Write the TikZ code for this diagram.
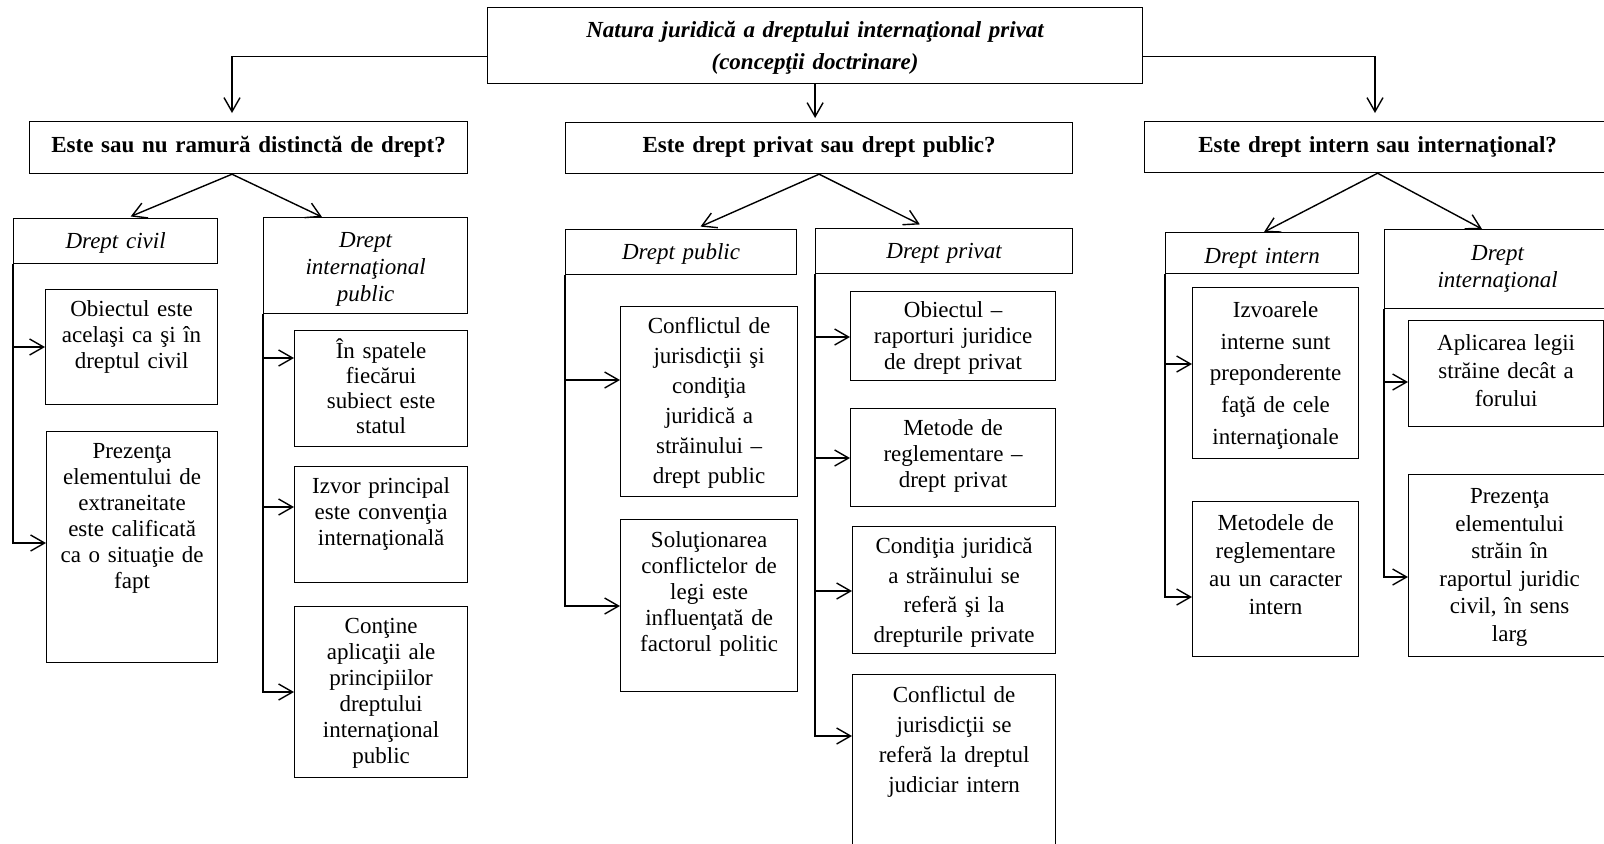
\documentclass[tikz,border=0pt]{standalone}
\usepackage{fontspec}
\setmainfont{Liberation Serif}
\usepackage{tikz}
\usetikzlibrary{arrows.meta,calc}

\newcommand{\cellfont}[1]{\fontsize{11.5pt}{#1}\selectfont}

\begin{document}
\begin{tikzpicture}[
    x=0.5pt, y=-0.5pt,
    cell/.style n args={3}{
        rectangle, draw=black, line width=0.6pt,
        anchor=north west, inner sep=0pt,
        align=center,
        text width=#1, text height=#2, text depth=#3,
        font=\cellfont{13pt}
    },
    arrow/.style={-{Straight Barb[length=7pt,width=8pt]}, line width=0.7pt}, % open arrow tip
]
\useasboundingbox (0,0) rectangle (1604,843);
\clip (0,0) rectangle (1604,843);

% --- TITLE ---
\node[cell={327.5pt}{15pt}{23pt}, font=\bfseries\itshape\cellfont{16pt}] (top) at (487,7)
    {Natura juridică a dreptului internaţional privat\\(concepţii doctrinare)};

% --- THE THREE QUESTIONS ---
\node[cell={219pt}{15.5pt}{10.5pt}, font=\bfseries\cellfont{13pt}] (q1) at (29,121)
    {Este sau nu ramură distinctă de drept?};
\node[cell={253.5pt}{15pt}{10.5pt}, font=\bfseries\cellfont{13pt}] (q2) at (565,122)
    {Este drept privat sau drept public?};
\node[cell={233pt}{15.5pt}{10pt}, font=\bfseries\cellfont{13pt}] (q3) at (1144,121)
    {Este drept intern sau internaţional?\hspace*{11pt}};

% --- COLUMN 1: ramura distincta ---
\node[cell={102pt}{15pt}{7.5pt}, font=\itshape\cellfont{13.5pt}] (civ) at (13,218) {Drept civil};
\node[cell={102pt}{15pt}{33pt}, font=\itshape\cellfont{13.5pt}] (dip) at (263,217)
    {Drept\\internaţional\\public};

\node[cell={86pt}{13.5pt}{44pt}] (objciv) at (45,289)
    {Obiectul este\\acelaşi ca şi în\\dreptul civil};
\node[cell={85.5pt}{13.5pt}{102pt}] (prezciv) at (46,431)
    {Prezenţa\\elementului de\\extraneitate\\este calificată\\ca o situaţie de\\fapt};

\node[cell={86.5pt}{14pt}{44pt}, font=\cellfont{12.5pt}] (stat) at (294,330)
    {În spatele\\fiecărui\\subiect este\\statul};
\node[cell={86.5pt}{13.5pt}{44.5pt}] (izvor) at (294,466)
    {Izvor principal\\este convenţia\\internaţională};
\node[cell={86.5pt}{13.5pt}{72pt}] (contine) at (294,606)
    {Conţine\\aplicaţii ale\\principiilor\\dreptului\\internaţional\\public};

% --- COLUMN 2: privat sau public ---
\node[cell={115.5pt}{15pt}{7.5pt}, font=\itshape\cellfont{13.5pt}] (dpub) at (565,229) {Drept public};
\node[cell={128.5pt}{15pt}{7.5pt}, font=\itshape\cellfont{13.5pt}] (dpriv) at (815,228) {Drept privat};

\node[cell={88.5pt}{13.5pt}{81.5pt}, font=\cellfont{15pt}] (confpub) at (620,306)
    {Conflictul de\\jurisdicţii şi\\condiţia\\juridică a\\străinului –\\drept public};
\node[cell={88.5pt}{14pt}{72pt}] (solut) at (620,519)
    {Soluţionarea\\conflictelor de\\legi este\\influenţată de\\factorul politic};

\node[cell={102.5pt}{13pt}{31.5pt}] (objpriv) at (850,291)
    {Obiectul –\\raporturi juridice\\de drept privat};
\node[cell={102.5pt}{13.5pt}{35.5pt}] (metpriv) at (850,408)
    {Metode de\\reglementare –\\drept privat};
\node[cell={101.5pt}{13.5pt}{50pt}, font=\cellfont{14.75pt}] (condpriv) at (852,526)
    {Condiţia juridică\\a străinului se\\referă şi la\\drepturile private};
\node[cell={101.5pt}{14pt}{95pt}, font=\cellfont{15pt}] (confpriv) at (852,674)
    {Conflictul de\\jurisdicţii se\\referă la dreptul\\judiciar intern};

% --- COLUMN 3: intern sau international ---
\node[cell={96.5pt}{15.5pt}{5pt}, font=\itshape\cellfont{13.5pt}] (dint) at (1165,232) {Drept intern};
\node[cell={113pt}{15.5pt}{24pt}, font=\itshape\cellfont{13.5pt}] (dintl) at (1384,229)
    {Drept\hspace*{11pt}\\internaţional\hspace*{11pt}};

\node[cell={83pt}{15pt}{70.5pt}, font=\cellfont{15.8pt}] (izvint) at (1192,287)
    {Izvoarele\\interne sunt\\preponderente\\faţă de cele\\internaţionale};
\node[cell={83pt}{14.5pt}{63pt}, font=\cellfont{14pt}] (metint) at (1192,501)
    {Metodele de\\reglementare\\au un caracter\\intern};
\node[cell={97.5pt}{15pt}{38pt}, font=\cellfont{14pt}] (aplic) at (1408,320)
    {Aplicarea legii\\străine decât a\\forului};
\node[cell={101pt}{14.5pt}{76.5pt}, font=\cellfont{13.75pt}] (prezint) at (1408,474)
    {Prezenţa\hspace*{11pt}\\elementului\hspace*{11pt}\\străin în\hspace*{11pt}\\raportul juridic\hspace*{11pt}\\civil, în sens\hspace*{11pt}\\larg\hspace*{11pt}};

% --- SAGETI: titlu -> intrebari ---
\draw[arrow, shorten >=4pt] ($(top.west)+(0,11)$) -| (232,0 |- q1.north);
\draw[arrow, shorten >=2pt] (top.south) -- (top.south |- q2.north);
\draw[arrow, shorten >=4pt] ($(top.east)+(0,11)$) -| (1375,0 |- q3.north);

% --- SAGETI: intrebari -> ramuri ---
\draw[arrow, shorten >=2pt] (232,0 |- q1.south) -- (127,0 |- civ.north);
\draw[arrow] (232,0 |- q1.south) -- (322,0 |- dip.north);
\draw[arrow, shorten >=3pt] (q2.south) -- (695,0 |- dpub.north);
\draw[arrow, shorten >=4pt] (q2.south) -- (927,0 |- dpriv.north);
\draw[arrow] (q3.south) -- (1264,0 |- dint.north);
\draw[arrow] (q3.south) -- (1482,0 |- dintl.north);

% --- SAGETI: ramuri -> casete ---
\draw[arrow] (civ.south west) |- (objciv.west |- 0,347);
\draw[arrow] (civ.south west) |- (prezciv.west |- 0,543);

\draw[arrow] (dip.south west) |- (stat.west |- 0,358);
\draw[arrow] (dip.south west) |- (izvor.west |- 0,507);
\draw[arrow] (dip.south west) |- (contine.west |- 0,692);

\draw[arrow] (dpub.south west) |- (confpub.west |- 0,380);
\draw[arrow] (dpub.south west) |- (solut.west |- 0,606);

\draw[arrow] (dpriv.south west) |- (objpriv.west |- 0,337);
\draw[arrow] (dpriv.south west) |- (metpriv.west |- 0,458);
\draw[arrow] (dpriv.south west) |- (condpriv.west |- 0,591);
\draw[arrow] (dpriv.south west) |- (confpriv.west |- 0,736);

\draw[arrow] (dint.south west) |- (izvint.west |- 0,364);
\draw[arrow] (dint.south west) |- (metint.west |- 0,597);

\draw[arrow] (dintl.south west) |- (aplic.west |- 0,382);
\draw[arrow] (dintl.south west) |- (prezint.west |- 0,577);

\end{tikzpicture}
\end{document}
